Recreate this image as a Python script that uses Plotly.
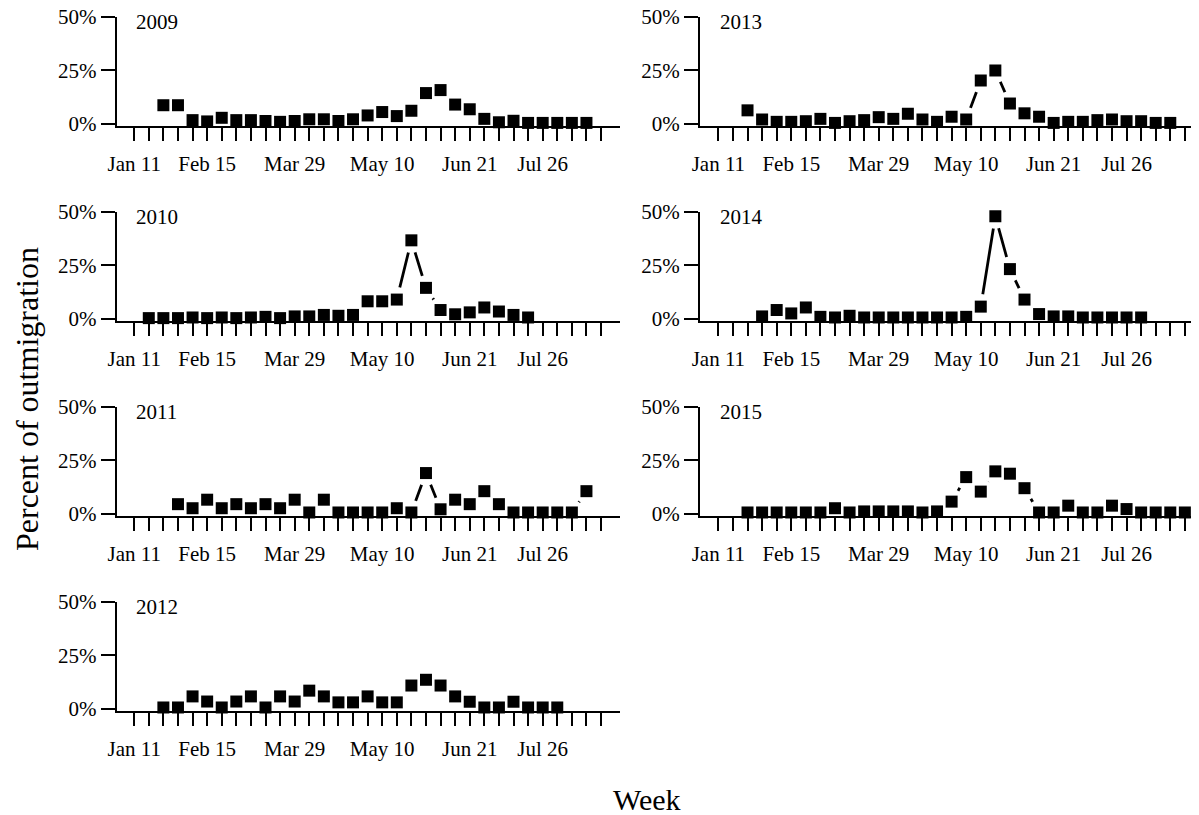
import plotly.graph_objects as go

# ---------------- data ----------------
WEEK_LABELS = ["Jan 11", "Feb 15", "Mar 29", "May 10", "Jun 21", "Jul 26"]
LABEL_WEEKS = [0, 5, 11, 17, 23, 28]
N_WEEK_TICKS = 33
Y_TICKS = [0, 25, 50]
Y_TICK_TEXT = ["0%", "25%", "50%"]

years = ["2009", "2010", "2011", "2012", "2013", "2014", "2015"]
start_week = {"2009": 2, "2010": 1, "2011": 3, "2012": 2, "2013": 2, "2014": 3, "2015": 2}

pct_2009 = [8.6, 8.6, 1.6, 1.0, 2.7, 1.6, 1.6, 1.2, 0.8, 1.2, 2.0, 2.0, 1.2, 2.0, 3.8,
            5.4, 3.5, 6.0, 14.3, 15.7, 8.9, 6.7, 2.2, 0.6, 1.3, 0.3, 0.3, 0.3, 0.3, 0.3]
pct_2010 = [0.2, 0.2, 0.2, 0.5, 0.2, 0.5, 0.2, 0.5, 0.8, 0.2, 1.0, 1.0, 1.7, 1.3, 1.7,
            8.1, 8.1, 8.9, 36.7, 14.4, 4.0, 2.0, 2.9, 5.2, 3.3, 1.7, 0.5]
pct_2011 = [4.4, 2.5, 6.5, 2.5, 4.4, 2.5, 4.4, 2.5, 6.5, 0.5, 6.5, 0.5, 0.5, 0.5, 0.5,
            2.5, 0.5, 19.0, 2.0, 6.5, 4.4, 10.5, 4.4, 0.5, 0.5, 0.5, 0.5, 0.5, 10.5]
pct_2012 = [0.5, 0.5, 5.7, 3.3, 0.5, 3.3, 5.7, 0.5, 5.7, 3.3, 8.4, 5.7, 2.9, 2.9, 5.7,
            2.9, 2.9, 10.8, 13.5, 10.8, 5.7, 3.2, 0.5, 0.5, 3.2, 0.5, 0.5, 0.5]
pct_2013 = [6.2, 1.9, 0.8, 0.8, 1.1, 2.2, 0.3, 1.1, 1.6, 3.0, 2.2, 4.6, 1.9, 0.8, 3.2,
            1.9, 20.2, 24.9, 9.4, 4.8, 3.2, 0.3, 0.8, 0.8, 1.6, 1.9, 1.1, 1.1, 0.3, 0.3]
pct_2014 = [1.0, 4.0, 2.4, 5.2, 0.8, 0.5, 1.3, 0.5, 0.5, 0.5, 0.5, 0.5, 0.5, 0.5, 0.8,
            5.6, 48.0, 23.2, 8.9, 2.1, 1.0, 1.0, 0.5, 0.5, 0.5, 0.5, 0.5]
pct_2015 = [0.5, 0.5, 0.5, 0.5, 0.5, 0.5, 2.5, 0.5, 1.0, 1.0, 1.0, 1.0, 0.5, 1.0, 5.6,
            17.1, 10.3, 19.8, 18.7, 11.9, 0.5, 0.5, 3.7, 0.5, 0.5, 3.7, 2.1, 0.5, 0.5, 0.5, 0.5]

values = {"2009": pct_2009, "2010": pct_2010, "2011": pct_2011, "2012": pct_2012,
          "2013": pct_2013, "2014": pct_2014, "2015": pct_2015}

# panel placement (column, row)
placement = {"2009": (0, 0), "2010": (0, 1), "2011": (0, 2), "2012": (0, 3),
             "2013": (1, 0), "2014": (1, 1), "2015": (1, 2)}

# ---------------- layout geometry ----------------
W, H = 1199, 815
OFF = 8  # page body margin
FONT = "Liberation Serif, Times New Roman, serif"
col_px = {0: (116.7, 620.0), 1: (700.0, 1199.0)}
col_range = {0: [-1.2, 33.3], 1: [-1.26, 32.97]}
ROW_TOP0, ROW_BOT0, ROW_STEP = 17.0, 126.0, 195.0
Y_RANGE = [-1.15, 50]


def px_x(v):
    return (v - OFF) / W


def px_y(v):
    return 1 - (v - OFF) / H


fig = go.Figure()
layout = dict(
    template="none",
    width=W, height=H, autosize=False,
    margin=dict(l=0, r=0, t=0, b=0, pad=0, autoexpand=False),
    paper_bgcolor="white", plot_bgcolor="white",
    showlegend=False,
    font=dict(family=FONT, color="black", size=21),
)
annotations = []

ticktext = [WEEK_LABELS[LABEL_WEEKS.index(w)] if w in LABEL_WEEKS else "" for w in range(N_WEEK_TICKS)]

for i, yr in enumerate(years, start=1):
    col, row = placement[yr]
    xs = list(range(start_week[yr], start_week[yr] + len(values[yr])))
    ys = values[yr]
    xa, ya = f"x{i}", f"y{i}"

    # connecting line
    fig.add_trace(go.Scatter(x=xs, y=ys, mode="lines", xaxis=xa, yaxis=ya,
                             line=dict(color="black", width=2.8), hoverinfo="skip"))
    # white halo that leaves a gap around each point (like type="b")
    fig.add_trace(go.Scatter(x=xs, y=ys, mode="markers", xaxis=xa, yaxis=ya,
                             marker=dict(symbol="circle", size=25, color="white",
                                         line=dict(width=0)), hoverinfo="skip"))
    # points
    fig.add_trace(go.Scatter(x=xs, y=ys, mode="markers", xaxis=xa, yaxis=ya,
                             cliponaxis=False,
                             marker=dict(symbol="square", size=12, color="black",
                                         line=dict(width=0))))

    x0, x1 = col_px[col]
    top = ROW_TOP0 + ROW_STEP * row
    bot = ROW_BOT0 + ROW_STEP * row
    suffix = "" if i == 1 else str(i)
    layout["xaxis" + suffix] = dict(
        domain=[px_x(x0), min(1.0, px_x(x1))], range=col_range[col], anchor=ya,
        automargin=False, ticklabeloverflow="allow",
        tickmode="array", tickvals=list(range(N_WEEK_TICKS)), ticktext=ticktext,
        ticks="outside", ticklen=13, tickwidth=1.8, tickcolor="black",
        showline=True, linewidth=2, linecolor="black",
        showgrid=False, zeroline=False, fixedrange=True,
        tickfont=dict(family=FONT, size=21, color="black"),
        ticklabelstandoff=5,
    )
    layout["yaxis" + suffix] = dict(
        domain=[px_y(bot), px_y(top)], range=Y_RANGE, anchor=xa,
        automargin=False, ticklabeloverflow="allow",
        tickmode="array", tickvals=Y_TICKS, ticktext=Y_TICK_TEXT,
        ticks="outside", ticklen=14, tickwidth=1.8, tickcolor="black",
        showline=True, linewidth=2, linecolor="black",
        showgrid=False, zeroline=False, fixedrange=True,
        tickfont=dict(family=FONT, size=21, color="black"),
    )
    annotations.append(dict(text=yr, xref=xa, yref=ya, x=0, y=47.5,
                            xanchor="left", yanchor="middle", showarrow=False,
                            font=dict(family=FONT, size=21, color="black")))

annotations.append(dict(text="Percent of outmigration", xref="paper", yref="paper",
                        x=px_x(27), y=px_y(399), textangle=-90,
                        xanchor="center", yanchor="middle", showarrow=False,
                        font=dict(family=FONT, size=32, color="black")))
annotations.append(dict(text="Week", xref="paper", yref="paper",
                        x=px_x(646.7), y=px_y(799),
                        xanchor="center", yanchor="middle", showarrow=False,
                        font=dict(family=FONT, size=30, color="black")))
layout["annotations"] = annotations

fig.update_layout(**layout)
fig.write_html("out.html")
